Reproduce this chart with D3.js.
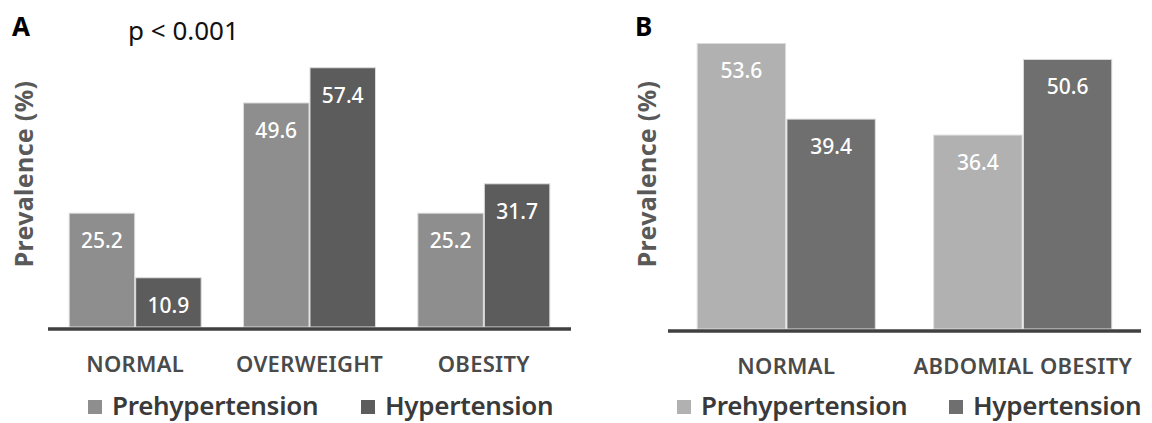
<!DOCTYPE html>
<html>
<head>
<meta charset="utf-8">
<script src="https://cdn.jsdelivr.net/npm/d3@7"></script>
<style>
  html, body { margin: 0; padding: 0; background: #ffffff; }
  svg { display: block; }
  text { font-family: "Noto Sans", "Open Sans", sans-serif; }
</style>
</head>
<body>
<svg id="chart" width="1152" height="423"></svg>
<script>
// ---- data ----
const seriesNames = ["Prehypertension", "Hypertension"];

const categoriesA = ["NORMAL", "OVERWEIGHT", "OBESITY"];
const prehypA = [25.2, 49.6, 25.2];
const hypA = [10.9, 57.4, 31.7];

const categoriesB = ["NORMAL", "ABDOMIAL OBESITY"];
const prehypB = [53.6, 36.4];
const hypB = [39.4, 50.6];

const svg = d3.select("#chart");

function drawPanel(cfg) {
  const g = svg.append("g");
  const rows = cfg.categories.map((c, i) => ({
    cat: c,
    vals: [cfg.pre[i], cfg.hyp[i]]
  }));

  const x0 = d3.scaleBand().domain(cfg.categories)
    .range(cfg.xRange).paddingInner(cfg.pad).paddingOuter(cfg.pad / 2);
  const x1 = d3.scaleBand().domain(seriesNames)
    .range([0, x0.bandwidth()]).paddingInner(0.015);
  const y = d3.scaleLinear().domain(cfg.yDomain).range(cfg.yRange);
  const color = d3.scaleOrdinal().domain(seriesNames).range(cfg.colors);

  const grp = g.selectAll("g.grp").data(rows).enter().append("g")
    .attr("transform", d => `translate(${x0(d.cat)},0)`);

  const bars = grp.selectAll("g.bar")
    .data(d => d.vals.map((v, j) => ({ s: seriesNames[j], v })))
    .enter().append("g");

  bars.append("rect")
    .attr("x", d => x1(d.s))
    .attr("y", d => y(d.v))
    .attr("width", x1.bandwidth())
    .attr("height", d => y(0) - y(d.v))
    .attr("fill", d => color(d.s))
    .attr("stroke", "#dcdcdc")
    .attr("stroke-width", 1);

  bars.append("text")
    .attr("x", d => x1(d.s) + x1.bandwidth() / 2)
    .attr("y", d => y(d.v) + 35)
    .attr("text-anchor", "middle")
    .attr("fill", "#ffffff")
    .attr("font-size", 21)
    .attr("font-weight", 500)
    .text(d => d.v.toFixed(1));

  // baseline axis
  const xAxis = d3.axisBottom(x0).tickSize(0).tickPadding(0);
  const ax = g.append("g").attr("transform", `translate(0,${cfg.axisY})`).call(xAxis);
  ax.select(".domain").attr("stroke", "#404040").attr("stroke-width", 3.5)
    .attr("d", `M${cfg.xRange[0]},0H${cfg.xRange[1]}`);
  ax.selectAll(".tick text")
    .attr("y", 43)
    .attr("dy", 0)
    .attr("fill", "#4a4a4a")
    .attr("font-size", 22)
    .attr("font-weight", 600)
    .attr("letter-spacing", 0.3)
    .style("font-family", '"Noto Sans", sans-serif');

  // y title
  g.append("text")
    .attr("transform", `translate(${cfg.yTitleX},174) rotate(-90)`)
    .attr("text-anchor", "middle")
    .attr("font-size", 25)
    .attr("font-weight", "bold")
    .attr("letter-spacing", 0.3)
    .attr("fill", "#595959")
    .text("Prevalence (%)");

  // panel letter
  g.append("text")
    .attr("x", cfg.letterX).attr("y", 36)
    .attr("font-size", 26).attr("font-weight", "bold").attr("fill", "#000")
    .text(cfg.letter);

  // legend
  const lg = g.selectAll("g.leg").data(seriesNames).enter().append("g")
    .attr("transform", (d, i) => `translate(${cfg.legendX[i]},0)`);
  lg.append("rect").attr("x", 0).attr("y", 400).attr("width", 14).attr("height", 14)
    .attr("fill", d => color(d));
  lg.append("text").attr("x", 24).attr("y", 415)
    .attr("font-size", 26).attr("font-weight", 600).attr("fill", "#3a3a3a")
    .attr("letter-spacing", -0.3)
    .text(d => d);
}

drawPanel({
  categories: categoriesA, pre: prehypA, hyp: hypA,
  xRange: [48, 571], pad: 0.243,
  yDomain: [0, 60], yRange: [327, 56], axisY: 329,
  colors: ["#8e8e8e", "#5c5c5c"],
  yTitleX: 33, letter: "A", letterX: 12,
  legendX: [88, 361]
});

drawPanel({
  categories: categoriesB, pre: prehypB, hyp: hypB,
  xRange: [668, 1141], pad: 0.247,
  yDomain: [0, 55], yRange: [329, 36], axisY: 331,
  colors: ["#b1b1b1", "#6f6f6f"],
  yTitleX: 656, letter: "B", letterX: 635,
  legendX: [677, 949]
});

svg.append("text")
  .attr("x", 128).attr("y", 40)
  .attr("font-size", 26).attr("fill", "#111")
  .text("p < 0.001");
</script>
</body>
</html>
